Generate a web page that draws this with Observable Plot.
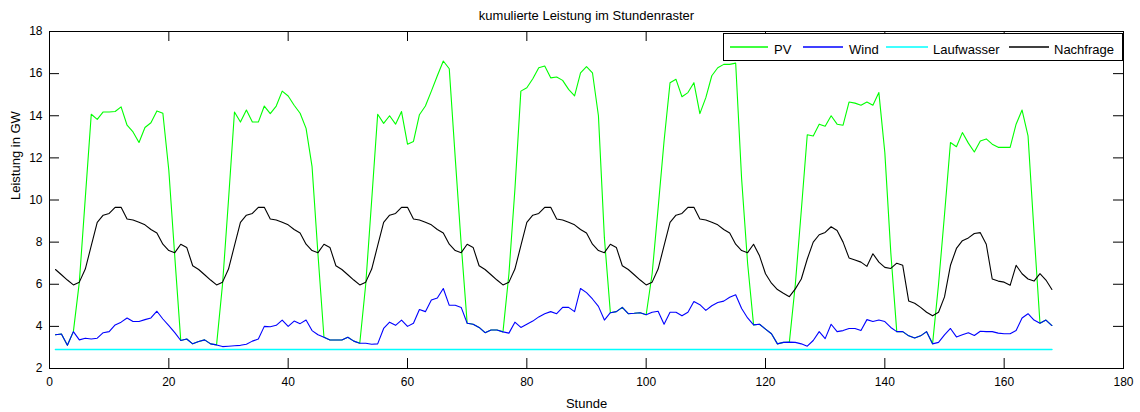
<!DOCTYPE html>
<html><head><meta charset="utf-8">
<script src="https://cdn.jsdelivr.net/npm/d3@7"></script>
<script src="https://cdn.jsdelivr.net/npm/@observablehq/plot@0.6"></script>
<style>
html,body{margin:0;padding:0;background:#fff;}
#chart{width:1140px;height:412px;}
</style></head><body><div id="chart"></div>
<script>
const seriesNames = ["PV", "Wind", "Laufwasser", "Nachfrage"];
const seriesColors = ["#00ff00", "#0000ff", "#00ffff", "#000000"];
const seriesWidths = [1.1, 1.1, 1.6, 1.1];

// cumulative power (GW), hours 1..168
const pv = [
  3.6, 3.64, 3.1, 3.75, 6.1, 10.1, 14.07, 13.83, 14.18, 14.18, 14.2, 14.42, 13.55, 13.23, 12.73, 13.44, 13.67, 14.23, 14.12, 11.4, 7.3, 3.33, 3.4, 3.17,
  3.28, 3.36, 3.17, 3.12, 6.0, 10.0, 14.18, 13.7, 14.27, 13.7, 13.7, 14.46, 14.1, 14.46, 15.17, 14.94, 14.5, 14.12, 13.4, 11.6, 7.4, 3.48, 3.35, 3.35,
  3.35, 3.48, 3.3, 3.2, 6.0, 10.0, 14.07, 13.64, 14.0, 13.6, 14.2, 12.65, 12.78, 14.05, 14.46, 15.17, 15.9, 16.6, 16.23, 12.0, 7.9, 4.15, 4.1, 3.95,
  3.7, 3.83, 3.83, 3.74, 6.5, 10.5, 15.17, 15.33, 15.76, 16.28, 16.36, 15.8, 15.84, 15.68, 15.25, 14.94, 16.04, 16.33, 16.04, 14.0, 8.2, 4.65, 4.7, 4.9,
  4.6, 4.62, 4.65, 4.55, 6.5, 9.6, 12.8, 15.57, 15.73, 14.9, 15.1, 15.57, 14.1, 14.86, 15.9, 16.28, 16.44, 16.44, 16.5, 11.0, 7.0, 4.07, 4.1, 3.87,
  3.65, 3.17, 3.24, 3.25, 6.0, 9.5, 13.1, 13.04, 13.6, 13.5, 14.0, 13.6, 13.55, 14.65, 14.6, 14.5, 14.65, 14.5, 15.1, 12.25, 7.5, 3.75, 3.75, 3.55,
  3.45, 3.55, 3.75, 3.17, 6.0, 9.3, 12.73, 12.53, 13.2, 12.7, 12.28, 12.8, 12.9, 12.65, 12.5, 12.5, 12.5, 13.6, 14.27, 13.05, 8.5, 4.15, 4.3, 4.04
];
const wind = [
  3.6, 3.64, 3.1, 3.75, 3.36, 3.44, 3.4, 3.44, 3.7, 3.75, 4.07, 4.2, 4.4, 4.23, 4.23, 4.32, 4.4, 4.72, 4.35, 4.04, 3.7, 3.33, 3.4, 3.17,
  3.28, 3.36, 3.17, 3.12, 3.04, 3.06, 3.08, 3.1, 3.15, 3.3, 3.4, 4.0, 3.98, 4.05, 4.3, 4.0, 4.25, 4.13, 4.3, 3.8, 3.6, 3.48, 3.35, 3.35,
  3.35, 3.48, 3.3, 3.2, 3.2, 3.15, 3.17, 3.9, 4.2, 4.05, 4.3, 4.0, 4.15, 4.8, 4.7, 5.25, 5.35, 5.8, 5.0, 5.0, 4.9, 4.15, 4.1, 3.95,
  3.7, 3.83, 3.83, 3.74, 3.68, 4.2, 3.95, 4.1, 4.25, 4.45, 4.6, 4.7, 4.6, 4.9, 4.9, 4.7, 5.8, 5.6, 5.3, 4.95, 4.3, 4.65, 4.7, 4.9,
  4.6, 4.62, 4.65, 4.55, 4.67, 4.72, 4.1, 4.67, 4.67, 4.5, 4.67, 5.18, 5.03, 4.76, 4.98, 5.13, 5.2, 5.38, 5.5, 4.85, 4.4, 4.07, 4.1, 3.87,
  3.65, 3.17, 3.24, 3.25, 3.24, 3.17, 3.06, 3.33, 3.75, 3.42, 4.1, 3.75, 3.8, 3.9, 3.9, 3.8, 4.32, 4.23, 4.3, 4.23, 3.95, 3.75, 3.75, 3.55,
  3.45, 3.55, 3.75, 3.17, 3.24, 3.6, 3.9, 3.5, 3.6, 3.7, 3.57, 3.77, 3.75, 3.75, 3.68, 3.65, 3.65, 3.8, 4.4, 4.6, 4.3, 4.15, 4.3, 4.04
];
const laufwasser = [
  2.9, 2.9, 2.9, 2.9, 2.9, 2.9, 2.9, 2.9, 2.9, 2.9, 2.9, 2.9, 2.9, 2.9, 2.9, 2.9, 2.9, 2.9, 2.9, 2.9, 2.9, 2.9, 2.9, 2.9,
  2.9, 2.9, 2.9, 2.9, 2.9, 2.9, 2.9, 2.9, 2.9, 2.9, 2.9, 2.9, 2.9, 2.9, 2.9, 2.9, 2.9, 2.9, 2.9, 2.9, 2.9, 2.9, 2.9, 2.9,
  2.9, 2.9, 2.9, 2.9, 2.9, 2.9, 2.9, 2.9, 2.9, 2.9, 2.9, 2.9, 2.9, 2.9, 2.9, 2.9, 2.9, 2.9, 2.9, 2.9, 2.9, 2.9, 2.9, 2.9,
  2.9, 2.9, 2.9, 2.9, 2.9, 2.9, 2.9, 2.9, 2.9, 2.9, 2.9, 2.9, 2.9, 2.9, 2.9, 2.9, 2.9, 2.9, 2.9, 2.9, 2.9, 2.9, 2.9, 2.9,
  2.9, 2.9, 2.9, 2.9, 2.9, 2.9, 2.9, 2.9, 2.9, 2.9, 2.9, 2.9, 2.9, 2.9, 2.9, 2.9, 2.9, 2.9, 2.9, 2.9, 2.9, 2.9, 2.9, 2.9,
  2.9, 2.9, 2.9, 2.9, 2.9, 2.9, 2.9, 2.9, 2.9, 2.9, 2.9, 2.9, 2.9, 2.9, 2.9, 2.9, 2.9, 2.9, 2.9, 2.9, 2.9, 2.9, 2.9, 2.9,
  2.9, 2.9, 2.9, 2.9, 2.9, 2.9, 2.9, 2.9, 2.9, 2.9, 2.9, 2.9, 2.9, 2.9, 2.9, 2.9, 2.9, 2.9, 2.9, 2.9, 2.9, 2.9, 2.9, 2.9
];
const nachfrage = [
  6.7, 6.45, 6.2, 5.97, 6.1, 6.72, 7.83, 8.94, 9.28, 9.36, 9.65, 9.65, 9.1, 9.05, 8.94, 8.82, 8.6, 8.43, 7.9, 7.6, 7.5, 7.9, 7.75, 6.88,
  6.7, 6.45, 6.2, 5.97, 6.1, 6.72, 7.83, 8.94, 9.28, 9.36, 9.65, 9.65, 9.1, 9.05, 8.94, 8.82, 8.6, 8.43, 7.9, 7.6, 7.5, 7.9, 7.75, 6.88,
  6.7, 6.45, 6.2, 5.97, 6.1, 6.72, 7.83, 8.94, 9.28, 9.36, 9.65, 9.65, 9.1, 9.05, 8.94, 8.82, 8.6, 8.43, 7.9, 7.6, 7.5, 7.9, 7.75, 6.88,
  6.7, 6.45, 6.2, 5.97, 6.1, 6.72, 7.83, 8.94, 9.28, 9.36, 9.65, 9.65, 9.1, 9.05, 8.94, 8.82, 8.6, 8.43, 7.9, 7.6, 7.5, 7.9, 7.75, 6.88,
  6.7, 6.45, 6.2, 5.97, 6.1, 6.72, 7.83, 8.94, 9.28, 9.36, 9.65, 9.65, 9.1, 9.05, 8.94, 8.82, 8.6, 8.43, 7.9, 7.6, 7.5, 7.9, 7.35, 6.5,
  6.05, 5.75, 5.57, 5.41, 5.78, 6.25, 7.2, 8.0, 8.35, 8.46, 8.73, 8.55, 8.0, 7.25, 7.15, 7.05, 6.85, 7.45, 7.05, 6.8, 6.75, 7.0, 6.9, 5.2,
  5.1, 4.9, 4.67, 4.5, 4.67, 5.4, 6.9, 7.7, 8.07, 8.2, 8.41, 8.45, 7.9, 6.25, 6.15, 6.1, 5.95, 6.9, 6.5, 6.25, 6.15, 6.5, 6.2, 5.75
];

const xTicks = [0, 20, 40, 60, 80, 100, 120, 140, 160, 180];
const yTicks = [2, 4, 6, 8, 10, 12, 14, 16, 18];
const titleText = "kumulierte Leistung im Stundenraster";
const xLabel = "Stunde";
const yLabel = "Leistung in GW";

const W = 1140, H = 412, mT = 31, mR = 17, mB = 44, mL = 49;
const frameW = W - mL - mR, frameH = H - mT - mB;
const tickLen = 10;
const font = "'Liberation Sans', Arial, Helvetica, sans-serif";

const seriesData = [pv, wind, laufwasser, nachfrage];
const lineMarks = seriesData.map((arr, s) =>
  Plot.line(arr, {x: (d, i) => i + 1, y: d => d, stroke: seriesColors[s], strokeWidth: seriesWidths[s]}));

const chart = Plot.plot({
  width: W, height: H,
  marginTop: mT, marginRight: mR, marginBottom: mB, marginLeft: mL,
  style: {fontFamily: font, fontSize: "12px", color: "#000", background: "#fff"},
  x: {domain: [0, 180]},
  y: {domain: [2, 18]},
  marks: [
    ...lineMarks,
    Plot.tickX(xTicks, {x: d => d, insetTop: frameH - tickLen, stroke: "#000"}),
    Plot.tickX(xTicks, {x: d => d, insetBottom: frameH - tickLen, stroke: "#000"}),
    Plot.tickY(yTicks, {y: d => d, insetRight: frameW - tickLen, stroke: "#000"}),
    Plot.tickY(yTicks, {y: d => d, insetLeft: frameW - tickLen, stroke: "#000"}),
    Plot.frame({stroke: "#000"}),
    Plot.axisX({ticks: xTicks, tickSize: 0, tickPadding: 9, label: null, fontSize: 12}),
    Plot.axisY({ticks: yTicks, tickSize: 0, tickPadding: 7, label: null, fontSize: 12}),
    Plot.text([xLabel], {frameAnchor: "bottom", dy: 35, text: d => d, fontSize: 13, lineAnchor: "middle"}),
    Plot.text([yLabel], {frameAnchor: "left", dx: -34, rotate: -90, text: d => d, fontSize: 13, lineAnchor: "middle"}),
    Plot.text([titleText], {frameAnchor: "top", dy: -16, text: d => d, fontSize: 13, lineAnchor: "middle"})
  ]
});
document.getElementById("chart").appendChild(chart);

// legend box (top right, inside the axes)
const svg = d3.select(chart);
const lg = svg.append("g").attr("font-family", font).attr("font-size", 13).attr("text-anchor", "start");
lg.append("rect").attr("x", 723.5).attr("y", 33.5).attr("width", 399).attr("height", 27)
  .attr("fill", "#fff").attr("stroke", "#000");
const legendLayout = [
  {x1: 730, x2: 768, tx: 774},
  {x1: 803, x2: 843, tx: 849},
  {x1: 886, x2: 928, tx: 933},
  {x1: 1009, x2: 1049, tx: 1054}
];
seriesNames.forEach((name, i) => {
  const L = legendLayout[i];
  lg.append("line").attr("x1", L.x1).attr("x2", L.x2).attr("y1", 47).attr("y2", 47)
    .attr("stroke", seriesColors[i]).attr("stroke-width", 1.6);
  lg.append("text").attr("x", L.tx).attr("y", 53.5).attr("fill", "#000").attr("text-anchor", "start").text(name);
});
</script></body></html>
